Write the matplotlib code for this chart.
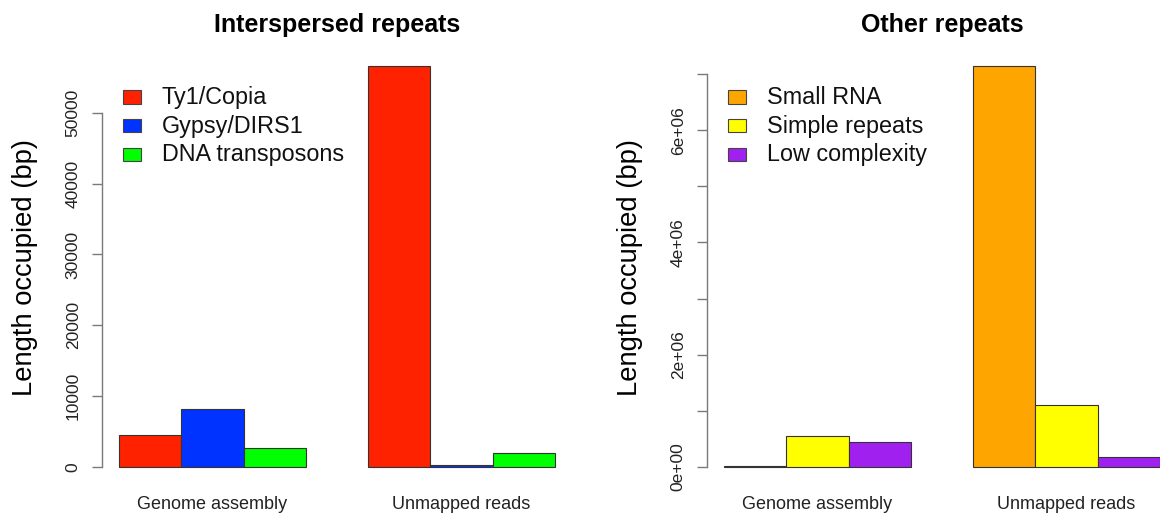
import numpy as np
import matplotlib
matplotlib.use("Agg")
import matplotlib.pyplot as plt
from matplotlib.patches import Rectangle

plt.rcParams['font.family'] = ['Liberation Sans', 'DejaVu Sans']

# Data
groups = ["Genome assembly", "Unmapped reads"]

interspersed_names = ["Ty1/Copia", "Gypsy/DIRS1", "DNA transposons"]
interspersed_colors = ["#FF2200", "#0033FF", "#00FF00"]
ty1_copia = [4500, 56600]
gypsy_dirs1 = [8200, 250]
dna_transposons = [2700, 2000]
interspersed_ticks = [0, 10000, 20000, 30000, 40000, 50000]
interspersed_ticklabels = ["0", "10000", "20000", "30000", "40000", "50000"]

other_names = ["Small RNA", "Simple repeats", "Low complexity"]
other_colors = ["#FFA500", "#FFFF00", "#A020F0"]
small_rna = [15000, 7143000]
simple_repeats = [557000, 1104000]
low_complexity = [440000, 183000]
other_ticks = [0, 1e6, 2e6, 3e6, 4e6, 5e6, 6e6, 7e6]
other_ticklabels = ["0e+00", "", "2e+06", "", "4e+06", "", "6e+06", ""]

W, H = 1160, 520
fig = plt.figure(figsize=(W / 100, H / 100), dpi=100)

# layout in pixels (R barplot style: bars width 1, one bar of space between groups)
unit = 62.29
ax_w = 7.56 * unit
ax_bottom = 483.04
ax_h = 433.08


def fx(px):
    return px / W


def fy(py):
    return (H - py) / H


def panel(left_px, series, names, colors, ticks, ticklabels, title, legend_x):
    ax = fig.add_axes([fx(left_px), fy(ax_bottom), ax_w / W, ax_h / H])
    ymax = max(max(s) for s in series)
    n = len(series)
    for i, (vals, col) in enumerate(zip(series, colors)):
        x = 1 + np.arange(len(groups)) * (n + 1) + i
        ax.bar(x, vals, width=1, align='edge', color=col,
               edgecolor='#333333', linewidth=0.8)
    ax.set_xlim(0.72, 8.28)
    ax.set_ylim(-0.04 * ymax, 1.04 * ymax)

    for s in ['top', 'right', 'bottom']:
        ax.spines[s].set_visible(False)
    ax.spines['left'].set_bounds(ticks[0], ticks[-1])
    ax.spines['left'].set_color('#7a7a7a')
    ax.spines['left'].set_linewidth(1.0)
    ax.set_yticks(ticks)
    ax.set_yticklabels(ticklabels, rotation=90, va='center', fontsize=12.5,
                       color='#222222')
    ax.tick_params(axis='y', length=7.5, width=1.0, color='#7a7a7a', pad=7.5)

    centers = 1 + np.arange(len(groups)) * (n + 1) + n / 2
    ax.set_xticks(centers)
    ax.set_xticklabels(groups, fontsize=13, color='#222222')
    ax.tick_params(axis='x', length=0, pad=9)

    cx = left_px + ax_w / 2
    fig.text(fx(cx), fy(32), title, ha='center', va='baseline',
             fontsize=18, fontweight='bold')
    fig.text(fx(left_px - 77), fy(268), "Length occupied (bp)", rotation=90,
             ha='center', va='center', fontsize=19.7)

    # legend
    for k, (name, col) in enumerate(zip(names, colors)):
        yc = 97 + 28.5 * k
        fig.add_artist(Rectangle((fx(legend_x - 9), fy(yc + 6.5)), 18 / W, 13 / H,
                                 transform=fig.transFigure, facecolor=col,
                                 edgecolor='#444444', linewidth=0.8))
        fig.text(fx(legend_x + 30), fy(yc + 7), name, ha='left', va='baseline',
                 fontsize=16.8, color='#111111')
    return ax


panel(101.56, [ty1_copia, gypsy_dirs1, dna_transposons], interspersed_names,
      interspersed_colors, interspersed_ticks, interspersed_ticklabels,
      "Interspersed repeats", 132)
panel(706.56, [small_rna, simple_repeats, low_complexity], other_names,
      other_colors, other_ticks, other_ticklabels, "Other repeats", 737)

fig.savefig("out.png", dpi=100)
